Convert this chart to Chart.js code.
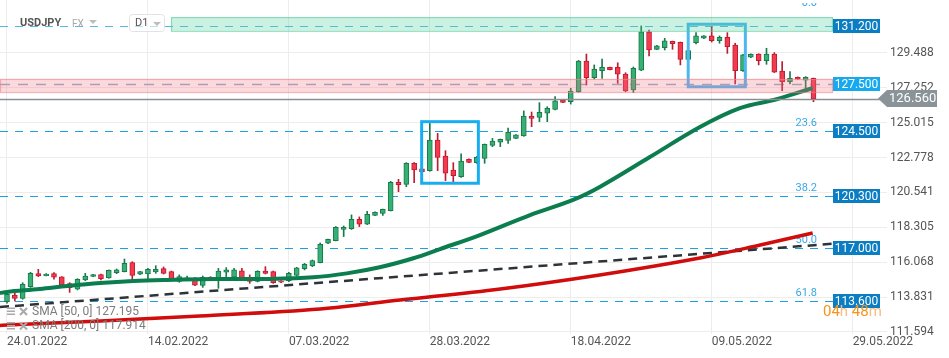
<!DOCTYPE html>
<html><head><meta charset="utf-8">
<script src="https://cdn.jsdelivr.net/npm/chart.js@4.4.1/dist/chart.umd.min.js"></script>
<style>html,body{margin:0;padding:0;background:#fff;}#wrap{width:949px;height:358px;position:relative}</style>
</head><body><div id="wrap"><canvas id="c" width="949" height="358"></canvas></div>
<script>
// ---- data ----
const opens = [113.54,113.96,113.75,114.50,115.33,115.20,115.33,115.12,114.69,114.33,114.93,115.16,115.27,115.05,115.40,115.46,116.04,115.29,115.31,115.44,115.65,115.46,114.84,114.93,114.99,114.58,115.10,114.93,115.42,115.10,115.52,114.99,114.84,115.50,115.46,114.86,114.88,115.22,115.65,115.82,116.04,117.28,117.45,118.17,118.22,118.82,118.50,119.07,119.20,119.37,121.19,121.06,122.41,122.05,121.94,123.90,122.88,121.98,121.55,122.67,122.45,122.73,123.56,123.76,123.88,124.01,124.16,125.44,125.36,125.62,125.87,126.47,126.36,127.01,128.97,127.90,128.35,128.57,128.57,128.14,127.11,128.39,130.85,129.72,129.83,130.23,130.17,129.08,130.15,130.43,130.58,130.28,130.49,130.00,128.35,129.21,129.42,128.99,129.42,128.33,127.65,127.93,127.75,127.86];
const highs = [114.07,114.07,114.75,115.42,115.61,115.33,115.40,115.14,114.75,115.01,115.35,115.29,115.31,115.57,115.63,116.27,116.10,115.48,115.67,115.84,115.76,115.50,115.25,115.18,115.08,115.18,115.14,115.67,115.72,115.67,115.67,115.25,115.52,115.78,115.50,114.88,115.42,115.74,115.99,116.21,117.30,117.55,118.35,118.39,119.10,118.97,119.33,119.29,119.48,121.25,121.38,122.45,122.45,122.09,124.97,124.33,123.22,122.45,123.01,122.69,122.85,123.65,124.01,123.97,124.67,124.25,125.77,125.70,126.30,126.04,126.69,126.49,127.22,129.01,129.42,128.72,129.10,128.59,128.86,128.22,128.59,131.22,130.96,129.98,130.43,130.25,130.19,129.68,130.79,130.60,131.17,130.58,130.79,130.11,129.40,129.44,129.44,129.79,129.51,128.93,128.29,127.95,127.97,127.88];
const lows = [113.43,113.58,113.69,114.45,115.14,115.18,114.97,114.56,114.13,114.29,114.88,115.14,114.93,115.03,115.33,115.44,114.97,115.27,114.97,115.35,115.31,114.93,114.78,114.88,114.56,114.45,114.97,114.39,115.14,115.03,114.93,114.71,114.80,115.31,114.71,114.75,114.82,115.18,115.57,115.78,116.02,117.26,117.43,117.71,118.17,118.35,118.48,119.05,119.07,119.35,120.59,120.91,121.17,121.83,121.90,121.94,121.30,121.23,121.51,122.45,122.41,122.41,123.48,123.48,123.69,123.99,124.14,124.76,125.08,125.08,125.83,126.30,126.21,126.96,127.43,127.82,127.86,128.40,127.54,127.00,126.94,128.35,129.29,129.70,129.68,129.72,128.72,129.04,130.06,130.41,130.19,130.11,129.46,127.50,128.31,129.19,128.72,128.76,128.23,127.07,127.50,127.78,127.15,126.36];
const closes = [114.01,113.75,114.65,115.35,115.18,115.31,115.10,114.60,114.43,114.97,115.18,115.27,115.01,115.55,115.57,115.99,115.22,115.46,115.61,115.61,115.35,114.97,115.14,115.06,114.60,115.10,115.01,115.50,115.57,115.57,114.97,114.84,115.48,115.35,114.75,114.78,115.35,115.70,115.93,116.17,117.21,117.53,118.30,118.30,118.82,118.50,119.14,119.27,119.46,121.19,121.04,122.41,121.98,121.87,123.90,122.79,121.77,121.62,122.56,122.47,122.79,123.63,123.84,123.95,124.40,124.23,125.44,125.29,125.68,125.94,126.41,126.32,127.05,128.97,127.90,128.46,128.57,128.42,128.12,127.05,128.50,130.85,129.68,129.94,130.26,130.08,129.08,129.64,130.58,130.58,130.28,130.49,129.89,128.35,129.36,129.40,128.99,129.42,128.25,127.65,127.86,127.80,127.93,126.56];

const sma50Idx = [-0.9,0,4.2,7.7,11.9,16.1,20.4,24.6,28.9,33.2,39.1,43.4,47.6,51.9,55.3,60.4,66.8,72.3,75.7,82.1,88.5,93.6,98.3,102.9];
const sma50Val = [114.09,114.16,114.35,114.54,114.73,114.86,114.93,114.97,114.99,114.99,115.10,115.35,115.74,116.32,116.91,117.81,119.09,120.06,120.89,122.81,124.74,125.95,126.52,127.24];
const sma200Idx = [-0.9,0,11.9,24.6,40.0,50.2,63.0,75.7,88.5,96.2,102.9];
const sma200Val = [112.01,112.04,112.30,112.62,113.07,113.64,114.35,115.25,116.34,117.17,117.94];
const trendIdx = [-0.894,105.5];
const trendVal = [113.19,117.25];

const xTickIdx = [0,18,36,54,72,90,108];
const xTickLabels = ['24.01.2022','14.02.2022','07.03.2022','28.03.2022','18.04.2022','09.05.2022','29.05.2022'];
const yTicks = [111.594,113.831,116.068,118.305,120.541,122.778,125.015,127.252,129.488];

const fibLevels = [131.2,124.5,120.3,117.0,113.6];
const fibNames = ['0.0','23.6','38.2','50.0','61.8'];
const levelLabels = ['131.200','124.500','120.300','117.000','113.600'];
const pinkLevel = 127.5, pinkLabel = '127.500';
const greenZone = [130.90,131.79];   // low, high
const pinkZone = [126.98,127.82];
const lastPrice = 126.56, lastPriceLabel = '126.560';
const boxesIdx = [[52.96,60.2],[87.0,94.3]];
const boxesVal = [[121.13,125.08],[127.32,131.33]];
const smaLegend = ['SMA [50, 0] 127.195','SMA [200, 0] 117.914'];
const symbol = 'USDJPY', market = 'FX', tf = 'D1', countdown = ['04','h ','48','m'];

// ---- chart ----
const idx = opens.map((_, i) => i);
const up = idx.map(i => closes[i] >= opens[i]);
const G_FILL = '#37b074', G_LINE = '#187a4c', R_FILL = '#f23b4f', R_LINE = '#be1b30';

const overlay = {
  id: 'overlay',
  beforeDatasetsDraw(chart) {
    const {ctx, scales: {x, y}} = chart;
    const xEnd = 833;
    ctx.save();
    fibLevels.forEach((v, k) => {
      const py = Math.round(y.getPixelForValue(v)) + 0.5;
      ctx.strokeStyle = k === 0 ? '#52b9e6' : '#1f9fe3';
      ctx.lineWidth = 1.2;
      ctx.setLineDash([8, 7]);
      ctx.beginPath(); ctx.moveTo(0, py); ctx.lineTo(xEnd, py); ctx.stroke();
      ctx.setLineDash([]);
      ctx.fillStyle = '#3aa9e6';
      ctx.font = '11px Roboto';
      ctx.textAlign = 'right'; ctx.textBaseline = 'bottom';
      if (k === 0) {
        ctx.save(); ctx.beginPath(); ctx.rect(790, 3, 40, 10); ctx.clip();
        ctx.fillText(fibNames[k], 817, 9); ctx.restore();
      } else {
        ctx.fillText(fibNames[k], 817, py - 3);
      }
    });
    const pp = Math.round(y.getPixelForValue(pinkLevel)) + 0.5;
    ctx.strokeStyle = '#93acc8'; ctx.lineWidth = 1.5; ctx.setLineDash([10, 8]);
    ctx.beginPath(); ctx.moveTo(0, pp); ctx.lineTo(xEnd, pp); ctx.stroke();
    ctx.setLineDash([]);
    ctx.restore();
  },
  afterDatasetsDraw(chart) {
    const {ctx, scales: {x, y}} = chart;
    const xEnd = 833;
    ctx.save();
    const lp = Math.round(y.getPixelForValue(lastPrice)) + 0.5;
    ctx.strokeStyle = '#8a8f93'; ctx.lineWidth = 1.5;
    ctx.beginPath(); ctx.moveTo(0, lp); ctx.lineTo(880, lp); ctx.stroke();
    boxesIdx.forEach((bi, k) => {
      const x0 = x.getPixelForValue(bi[0]), x1 = x.getPixelForValue(bi[1]);
      const y0 = y.getPixelForValue(boxesVal[k][1]), y1 = y.getPixelForValue(boxesVal[k][0]);
      ctx.strokeStyle = k === 0 ? '#16aef0' : '#4cb8ef';
      ctx.lineWidth = 3;
      ctx.strokeRect(x0, y0, x1 - x0, y1 - y0);
    });
    const gz0 = y.getPixelForValue(greenZone[1]), gz1 = y.getPixelForValue(greenZone[0]);
    const gx0 = 171;
    ctx.fillStyle = 'rgba(70,205,150,0.28)';
    ctx.fillRect(gx0, gz0, xEnd - gx0, gz1 - gz0);
    ctx.strokeStyle = 'rgba(80,200,150,0.55)'; ctx.lineWidth = 1.2;
    ctx.strokeRect(gx0 + 0.5, gz0 + 0.5, xEnd - gx0 - 1, gz1 - gz0);
    const pz0 = y.getPixelForValue(pinkZone[1]), pz1 = y.getPixelForValue(pinkZone[0]);
    ctx.fillStyle = 'rgba(245,120,132,0.28)';
    ctx.fillRect(0, pz0, xEnd, pz1 - pz0);
    ctx.strokeStyle = 'rgba(240,130,140,0.6)';
    ctx.strokeRect(0.5, pz0 + 0.5, xEnd - 1, pz1 - pz0);
    ctx.restore();
  },
  afterDraw(chart) {
    const {ctx, scales: {y}} = chart;
    ctx.save();
    const drawBox = (v, txt, col) => {
      const py = y.getPixelForValue(v);
      ctx.fillStyle = col;
      ctx.fillRect(833, Math.round(py - 7), 47, 14);
      ctx.fillStyle = '#fff'; ctx.font = '12px Roboto';
      ctx.textAlign = 'center'; ctx.textBaseline = 'middle';
      ctx.fillText(txt, 856.5, Math.round(py) + 0.5);
    };
    fibLevels.forEach((v, k) => drawBox(v, levelLabels[k], '#0b7dc2'));
    drawBox(pinkLevel, pinkLabel, '#16a9ee');
    const lp = y.getPixelForValue(lastPrice);
    ctx.fillStyle = '#8a9398';
    ctx.beginPath();
    ctx.moveTo(878, lp); ctx.lineTo(887, lp - 8.5); ctx.lineTo(937, lp - 8.5);
    ctx.lineTo(937, lp + 8.5); ctx.lineTo(887, lp + 8.5); ctx.closePath(); ctx.fill();
    ctx.fillStyle = '#fff'; ctx.font = '13px Roboto';
    ctx.textAlign = 'left'; ctx.textBaseline = 'middle';
    ctx.fillText(lastPriceLabel, 889, lp + 0.5);
    ctx.font = 'bold 11px Roboto'; ctx.fillStyle = '#555'; ctx.textBaseline = 'middle';
    ctx.fillText(symbol, 20, 23);
    ctx.font = '10px Roboto'; ctx.fillStyle = '#a8a8a8';
    ctx.fillText(market, 72, 24);
    const tri = (tx, ty) => { ctx.fillStyle = '#bdbdbd'; ctx.beginPath(); ctx.moveTo(tx, ty); ctx.lineTo(tx + 8, ty); ctx.lineTo(tx + 4, ty + 4); ctx.closePath(); ctx.fill(); };
    tri(89, 20);
    ctx.strokeStyle = '#e2e2e2'; ctx.lineWidth = 1;
    ctx.beginPath(); ctx.roundRect(129.5, 14.5, 35, 17, 3); ctx.fillStyle = 'rgba(255,255,255,0.6)'; ctx.fill(); ctx.stroke();
    ctx.font = '11px Roboto'; ctx.fillStyle = '#555';
    ctx.fillText(tf, 135, 23.5);
    tri(153, 22);
    ctx.font = '12px Roboto';
    smaLegend.forEach((t, k) => {
      const ly = 311.5 + k * 14.5;
      ctx.fillStyle = '#a9a9a9';
      for (let r = 0; r < 3; r++) ctx.fillRect(7, ly - 4 + r * 3, 8, 1.5);
      ctx.strokeStyle = '#a9a9a9'; ctx.lineWidth = 2;
      ctx.beginPath(); ctx.moveTo(20, ly - 3.5); ctx.lineTo(27, ly + 3.5); ctx.moveTo(27, ly - 3.5); ctx.lineTo(20, ly + 3.5); ctx.stroke();
      ctx.fillStyle = '#7d7d7d';
      ctx.fillText(t, 32, ly);
    });
    ctx.font = '15px Roboto'; ctx.textBaseline = 'middle';
    let cx = 823;
    countdown.forEach((p, k) => {
      ctx.fillStyle = (k % 2 === 0) ? '#f7941d' : '#f6bd86';
      ctx.fillText(p, cx, 312);
      cx += ctx.measureText(p).width;
    });
    ctx.restore();
  }
};

new Chart(document.getElementById('c'), {
  type: 'bar',
  data: {
    datasets: [
      { type: 'line', label: 'SMA50', data: sma50Idx.map((v, k) => ({x: v, y: sma50Val[k]})),
        borderColor: '#0b7d4f', borderWidth: 4, pointRadius: 0, tension: 0.35, order: 0 },
      { type: 'line', label: 'SMA200', data: sma200Idx.map((v, k) => ({x: v, y: sma200Val[k]})),
        borderColor: '#d00c0c', borderWidth: 3.5, pointRadius: 0, tension: 0.35, order: 0 },
      { type: 'line', label: 'trend', data: trendIdx.map((v, k) => ({x: v, y: trendVal[k]})),
        borderColor: '#2e3338', borderWidth: 2.5, borderDash: [9, 6], pointRadius: 0, order: 0 },
      { label: 'body', data: idx.map(i => ({x: i, y: [opens[i], closes[i]]})),
        backgroundColor: up.map(u => u ? G_FILL : R_FILL), borderColor: up.map(u => u ? G_LINE : R_LINE),
        borderWidth: 1, borderSkipped: false, barThickness: 5, grouped: false, order: 2 },
      { label: 'wick', data: idx.map(i => ({x: i, y: [lows[i], highs[i]]})),
        backgroundColor: up.map(u => u ? G_LINE : R_LINE), borderWidth: 0,
        barThickness: 1, grouped: false, order: 3 }
    ]
  },
  options: {
    responsive: false, animation: false, devicePixelRatio: 1,
    layout: {padding: 0},
    plugins: {legend: {display: false}, tooltip: {enabled: false}},
    scales: {
      x: {
        type: 'linear', min: -0.894, max: 112.39, offset: false,
        grid: {color: '#ededed', drawTicks: false, offset: false},
        border: {display: false},
        afterBuildTicks: s => { s.ticks = xTickIdx.map(v => ({value: v})); },
        ticks: {align: 'start', padding: 1, maxRotation: 0, autoSkip: false, color: '#555',
          font: {family: 'Roboto', size: 12}, callback: (v, i) => xTickLabels[i]},
        afterFit: s => { s.height = 24; s.paddingLeft = 0; s.paddingRight = 0; }
      },
      y: {
        position: 'right', min: 111.46, max: 132.885, beginAtZero: false,
        grid: {color: '#ededed', drawTicks: false},
        border: {display: false},
        afterBuildTicks: s => { s.ticks = yTicks.map(v => ({value: v})); },
        ticks: {padding: 3, color: '#555', font: {family: 'Roboto', size: 12}, callback: v => Number(v).toFixed(3)},
        afterFit: s => { s.width = 62; s.paddingTop = 0; s.paddingBottom = 0; }
      }
    }
  },
  plugins: [overlay]
});
</script></body></html>
